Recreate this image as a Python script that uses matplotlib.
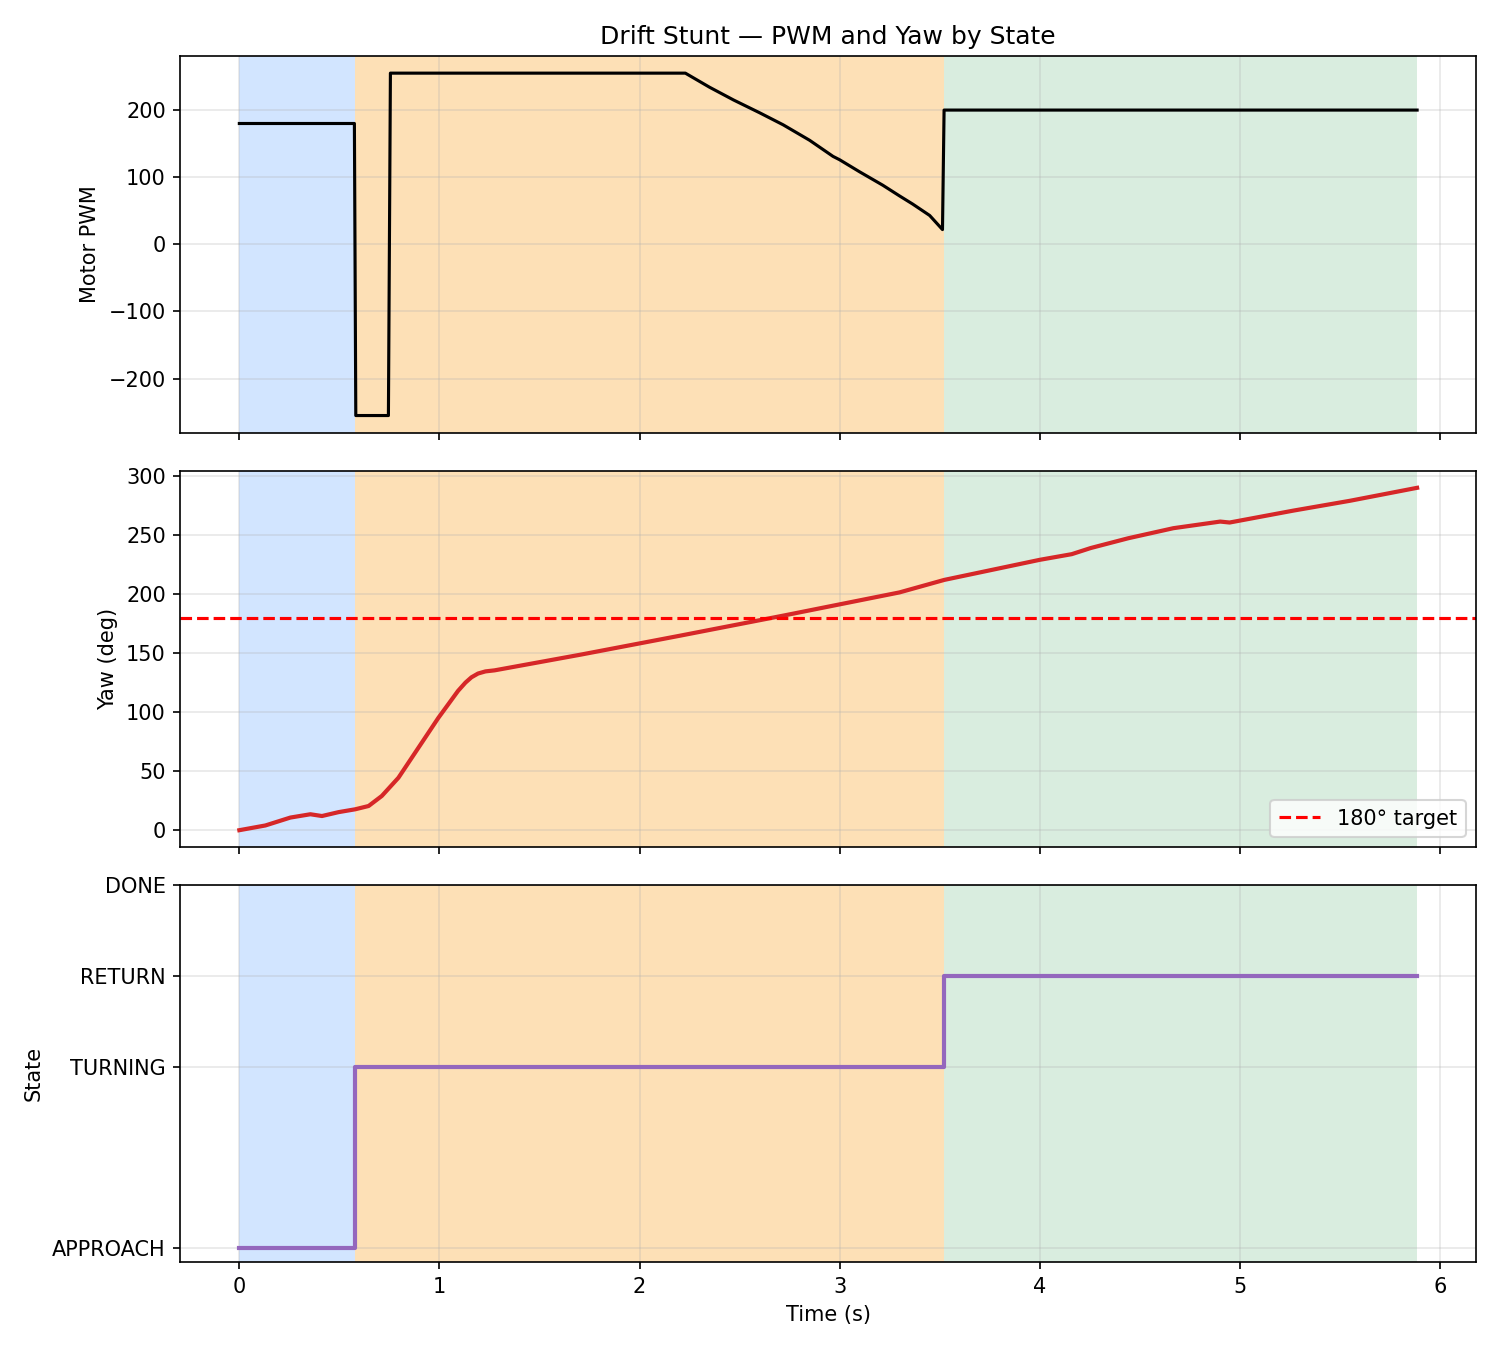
import numpy as np
import matplotlib.pyplot as plt

# state timeline (s)
t_turn = 0.578
t_return = 3.52
t_end = 5.886

state_names = ['APPROACH', 'TURNING', 'RETURN', 'DONE']
state_codes = [0, 2, 3, 4]

# motor pwm breakpoints
pwm_t = [0.0, 0.575, 0.582, 0.745, 0.755, 2.229, 2.35, 2.47, 2.60, 2.718,
         2.85, 2.967, 3.00, 3.10, 3.216, 3.30, 3.365, 3.45, 3.514, 3.522, t_end]
pwm_v = [180, 180, -255, -255, 255, 255, 234, 215, 196, 178,
         155, 131, 126, 108, 88, 72, 60, 43, 22, 200, 200]

# yaw breakpoints (deg)
yaw_t = [0.0, 0.13, 0.255, 0.355, 0.413, 0.496, 0.579, 0.646, 0.712, 0.795,
         0.878, 0.994, 1.05, 1.093, 1.13, 1.16, 1.193, 1.23, 1.276, 1.706,
         2.204, 2.726, 3.299, 3.523, 4.0, 4.16, 4.255, 4.443, 4.668, 4.902,
         4.949, 5.268, 5.55, t_end]
yaw_v = [0, 4, 10.7, 13.5, 12, 15.3, 17.7, 20.5, 29, 44.4,
         65.5, 95, 108, 118, 125, 129.5, 132.7, 134.5, 135.4, 148.7,
         164.8, 182, 201.4, 212, 229, 233.8, 239, 247.3, 255.8, 261.4,
         260.6, 270.7, 279, 290]

# state step line
st_t = [0.0, t_turn, t_return, t_end]
st_v = [0, 2, 3, 3]

spans = [(0.0, t_turn, '#d2e5ff'), (t_turn, t_return, '#fde0b6'), (t_return, t_end, '#d9eddf')]

fig, axes = plt.subplots(3, 1, figsize=(10, 9), dpi=150, sharex=True)
fig.subplots_adjust(left=0.1203, right=0.984, top=0.9585, bottom=0.0652, hspace=0.101)

for ax in axes:
    for a, b, c in spans:
        ax.axvspan(a, b, color=c, lw=0, zorder=0)
    ax.grid(True, alpha=0.3)

ax1, ax2, ax3 = axes
ax1.plot(pwm_t, pwm_v, color='black', lw=1.5)
ax1.set_ylabel('Motor PWM')
ax1.set_title('Drift Stunt — PWM and Yaw by State')

ax2.plot(yaw_t, yaw_v, color='tab:red', lw=2)
ax2.axhline(180, color='red', ls='--', lw=1.5, label='180° target')
ax2.set_ylabel('Yaw (deg)')
ax2.legend(loc='lower right')

ax3.step(st_t, st_v, where='post', color='tab:purple', lw=2)
ax3.set_yticks(state_codes)
ax3.set_yticklabels(state_names)
ax3.set_ylabel('State')
ax3.set_xlabel('Time (s)')

plt.savefig('out.png')
